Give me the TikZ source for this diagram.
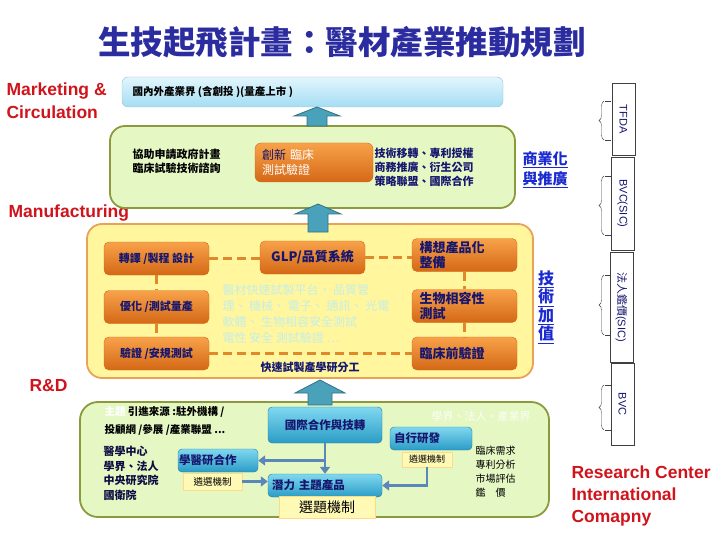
\documentclass[tikz,border=0pt]{standalone}
\usepackage{fontspec}
\setmainfont{Liberation Sans}
\newfontfamily\cjk{Noto Sans CJK TC}
\usepackage{xcolor}
\usetikzlibrary{arrows.meta,positioning,shapes,calc,decorations.pathreplacing}
\definecolor{titleblue}{HTML}{2B2CA0}
\definecolor{navy}{HTML}{16166E}
\definecolor{redlab}{HTML}{D0141C}
\definecolor{orangetop}{HTML}{F8A24A}
\definecolor{orangebot}{HTML}{D46816}
\definecolor{cyantop}{HTML}{80D8F0}
\definecolor{cyanbot}{HTML}{2B9CC6}
\definecolor{skytop}{HTML}{E2F6FD}
\definecolor{skybot}{HTML}{A4DDF3}
\definecolor{limefill}{HTML}{E5F8C3}
\definecolor{oliveline}{HTML}{8A9A3C}
\definecolor{creamfill}{HTML}{FFF69E}
\definecolor{amberline}{HTML}{E9A257}
\definecolor{dashorange}{HTML}{E0892A}
\definecolor{tealarrow}{HTML}{4AA2BA}
\definecolor{steelarrow}{HTML}{5A86BA}
\definecolor{notefill}{HTML}{FFF9B6}
\definecolor{linkblue}{HTML}{1A2AD0}
\definecolor{ghost}{HTML}{C6EEE6}

\begin{document}
\begin{tikzpicture}[x=1pt,y=-1pt,
    panel/.style={rounded corners=15pt,line width=1.8pt},
    obox/.style={rounded corners=5pt,top color=orangetop,bottom color=orangebot,
      draw=orangebot,font=\cjk\bfseries,text=navy,inner sep=0pt,
      minimum width=105pt,minimum height=33pt},
    cbox/.style={rounded corners=4pt,top color=cyantop,bottom color=cyanbot,
      draw=cyanbot!80!black,font=\cjk\bfseries,text=navy,inner sep=0pt},
    note/.style={fill=notefill,draw=notefill!75!orange,font=\cjk,inner sep=0pt},
    tie/.style={draw=dashorange,line width=3pt,dash pattern=on 9pt off 5pt},
    feed/.style={draw=steelarrow,line width=2.5pt,-{Triangle[width=10pt,length=7pt]}},
    blockup/.style={fill=tealarrow,draw=tealarrow!70!black,line width=0.8pt,line join=miter},
    sidetag/.style={draw=black!75,fill=white,rotate=-90,text=navy,
      font=\fontsize{11}{13}\selectfont,minimum height=23pt,inner sep=0pt},
    clasp/.style={decorate,decoration={brace,amplitude=5pt},draw=black!75},
    tag/.style={font=\bfseries\fontsize{17.5}{23}\selectfont,text=redlab,align=left}]
  \path[use as bounding box,fill=white] (0,0) rectangle (720,540);

  % title
  \node[font=\cjk\bfseries\fontsize{32.5}{35}\selectfont,text=titleblue] (title) at (342,42)
    {生技起飛計畫：醫材產業推動規劃};

  % stage labels
  \node[tag,anchor=north west] (market) at (3,79) {Marketing \&\\Circulation};
  \node[tag,anchor=west] (manuf) at (5,213) {Manufacturing};
  \node[tag,anchor=west] (rnd) at (26,386) {R\&D};
  \node[font=\bfseries\fontsize{17.5}{22}\selectfont,text=redlab,align=left,anchor=north west]
    (rcic) at (568,462) {Research Center\\International\\Comapny};

  % top: industry
  \node[rounded corners=6pt,top color=skytop,bottom color=skybot,draw=skybot!70!gray,
    minimum width=381pt,minimum height=30pt,inner sep=0pt] (industry) at (312.5,92) {};
  \node[font=\cjk\bfseries\fontsize{10.5}{12}\selectfont,anchor=west] (industrytxt)
    at (129,92) {國內外產業界 (含創投 )(量產上市 )};

  % commercialisation panel
  \node[panel,draw=oliveline,fill=limefill,minimum width=405pt,minimum height=82pt]
    (assist) at (312.5,167) {};
  \node[font=\cjk\bfseries\fontsize{11}{14}\selectfont,align=left,anchor=north west]
    (govplan) at (129,145) {協助申請政府計畫\\臨床試驗技術諮詢};
  \node[rounded corners=6pt,top color=orangetop,bottom color=orangebot,draw=orangebot,
    minimum width=118pt,minimum height=39pt,text width=104pt,align=left,inner sep=0pt,
    font=\cjk\fontsize{12}{15}\selectfont,text=white] (innov) at (314,162.5)
    {\textcolor{navy}{創新} 臨床\\測試驗證};
  \node[font=\cjk\bfseries\fontsize{11}{14}\selectfont,text=navy,align=left,anchor=north west]
    (transfer) at (371,145) {技術移轉、專利授權\\商務推廣、衍生公司\\策略聯盟、國際合作};
  \node[font=\cjk\bfseries\fontsize{15}{20}\selectfont,text=linkblue,align=left,anchor=north west]
    (commerce) at (519,148) {\underline{商業化}\\\underline{與推廣}};

  % manufacturing panel
  \node[panel,draw=amberline,fill=creamfill,minimum width=446pt,minimum height=154pt]
    (rapid) at (310,301) {};
  \node[obox,font=\cjk\bfseries\fontsize{11}{13}\selectfont] (trans) at (156.5,258.5) {轉譯 /製程 設計};
  \node[obox,font=\cjk\bfseries\fontsize{11}{13}\selectfont] (optim) at (156.5,307) {優化 /測試量產};
  \node[obox,font=\cjk\bfseries\fontsize{11}{13}\selectfont] (verif) at (156.5,353.5) {驗證 /安規測試};
  \node[obox,font=\cjk\bfseries\fontsize{13}{15}\selectfont] (glp) at (312.5,257.5) {GLP/品質系統};
  \node[obox,font=\cjk\bfseries\fontsize{13}{15}\selectfont,text width=90pt,inner xsep=7.5pt,
    align=left] (proto) at (464.5,255) {構想產品化\\整備};
  \node[obox,font=\cjk\bfseries\fontsize{13}{15}\selectfont,text width=90pt,inner xsep=7.5pt,
    align=left] (biocomp) at (464.5,306) {生物相容性\\測試};
  \node[obox,font=\cjk\bfseries\fontsize{13}{15}\selectfont,text width=90pt,inner xsep=7.5pt,
    align=left] (preclin) at (464.5,353.5) {臨床前驗證};
  \draw[tie] (trans.east) -- (trans.east -| glp.west);
  \draw[tie] (glp.east) -- (glp.east -| proto.west);
  \draw[tie] (trans.south) -- (optim.north);
  \draw[tie] (optim.south) -- (verif.north);
  \draw[tie] (proto.south) -- (biocomp.north);
  \draw[tie] (biocomp.south) -- (preclin.north);
  \draw[tie] (verif.east) -- (preclin.west);
  \node[font=\cjk\fontsize{12}{16}\selectfont,text=ghost,align=left,anchor=north west]
    (platform) at (219,281) {醫材快速試製平台，  品質管\\理、 機械、 電子、 通訊、 光電\\軟體、 生物相容安全測試\\電性 安全 測試驗證 …};
  \node[font=\cjk\bfseries\fontsize{11}{13}\selectfont,text=navy] (division) at (310,367)
    {快速試製產學研分工};
  \node[font=\cjk\bfseries\fontsize{16}{18.5}\selectfont,text=linkblue,align=center]
    (valueadd) at (546,307) {\underline{技}\\\underline{術}\\\underline{加}\\\underline{值}};

  % R&D panel
  \node[panel,rounded corners=18pt,draw=oliveline,fill=limefill,minimum width=469pt,
    minimum height=115pt] (research) at (314.5,459.5) {};
  \node[font=\cjk\bfseries\fontsize{10.5}{18}\selectfont,align=left,anchor=north west]
    (sources) at (101,403) {\textcolor{white}{主題} 引進來源 :駐外機構 /\\投顧網 /參展 /產業聯盟 ...};
  \node[font=\cjk\bfseries\fontsize{11}{14.5}\selectfont,text=navy!60!black,align=left,
    anchor=north west] (members) at (100,443) {醫學中心\\學界、法人\\中央研究院\\國衛院};
  \node[font=\cjk\fontsize{11}{13}\selectfont,text=white!85!limefill] (partners) at (481,416)
    {學界、法人、產業界};
  \node[cbox,minimum width=114pt,minimum height=36pt,font=\cjk\bfseries\fontsize{11.5}{13}\selectfont]
    (intl) at (325,425) {國際合作與技轉};
  \node[cbox,text width=74pt,inner xsep=4pt,minimum height=23pt,align=left,
    font=\cjk\bfseries\fontsize{11.5}{13}\selectfont] (selfdev) at (431,438.5) {自行研發};
  \node[cbox,text width=78pt,inner xsep=1pt,minimum height=23pt,align=left,
    font=\cjk\bfseries\fontsize{11.5}{13}\selectfont] (coll) at (218,460.5) {學醫研合作};
  \node[cbox,text width=106pt,inner xsep=4pt,minimum height=23pt,align=left,
    font=\cjk\bfseries\fontsize{11.5}{13}\selectfont] (pot) at (325,485.5) {潛力 主題產品};
  \node[note,minimum width=59pt,minimum height=17pt,font=\cjk\fontsize{9.5}{11}\selectfont]
    (selA) at (212.5,481.5) {遴選機制};
  \node[note,minimum width=50pt,minimum height=15pt,font=\cjk\fontsize{9}{11}\selectfont]
    (selB) at (427,459.5) {遴選機制};
  \node[note,minimum width=96pt,minimum height=22pt,font=\cjk\fontsize{14}{16}\selectfont]
    (topicsel) at (327,507) {選題機制};
  \node[font=\cjk\fontsize{10}{14}\selectfont,align=left,anchor=north west]
    (needs) at (472,443) {臨床需求\\專利分析\\市場評估\\鑑\hspace{1em}價};
  \draw[feed] (intl.south) -- (pot.north);
  \draw[feed] (intl.south |- coll.east) -- (coll.east);
  \draw[feed] (selA.east) -- (pot.west |- selA.east);
  \draw[feed] (selB.south) |- (pot.east);

  % block arrows between stages
  \coordinate (upA) at (317,107);
  \coordinate (upB) at (318,204);
  \coordinate (upC) at (320,380);
  \draw[blockup] (upA) -- ++(23,9) -- ++(-13,0) -- ++(0,10) -- ++(-20,0)
    -- ++(0,-10) -- ++(-13,0) -- cycle;
  \draw[blockup] (upB) -- ++(23,10) -- ++(-13,0) -- ++(0,18) -- ++(-20,0)
    -- ++(0,-18) -- ++(-13,0) -- cycle;
  \draw[blockup] (upC) -- ++(25,13) -- ++(-13,0) -- ++(0,12) -- ++(-24,0)
    -- ++(0,-12) -- ++(-13,0) -- cycle;

  % side tags
  \node[sidetag,minimum width=72pt] (tfda) at (623.5,119) {TFDA};
  \node[sidetag,minimum width=93pt] (bvcsic) at (622.5,203.5) {BVC(SIC)};
  \node[sidetag,minimum width=110pt] (valsic) at (621.5,307) {{\cjk 法人鑑價}(SIC)};
  \node[sidetag,minimum width=82pt] (bvc) at (622.5,404) {BVC};
  \foreach \ya/\yb in {101/140,176/235,275/335,385/430}{
    \draw[black!75] (611,\ya) -- (605,\ya) (611,\yb) -- (605,\yb);
    \draw[clasp] (604,\yb) -- (604,\ya);
  }
\end{tikzpicture}
\end{document}
